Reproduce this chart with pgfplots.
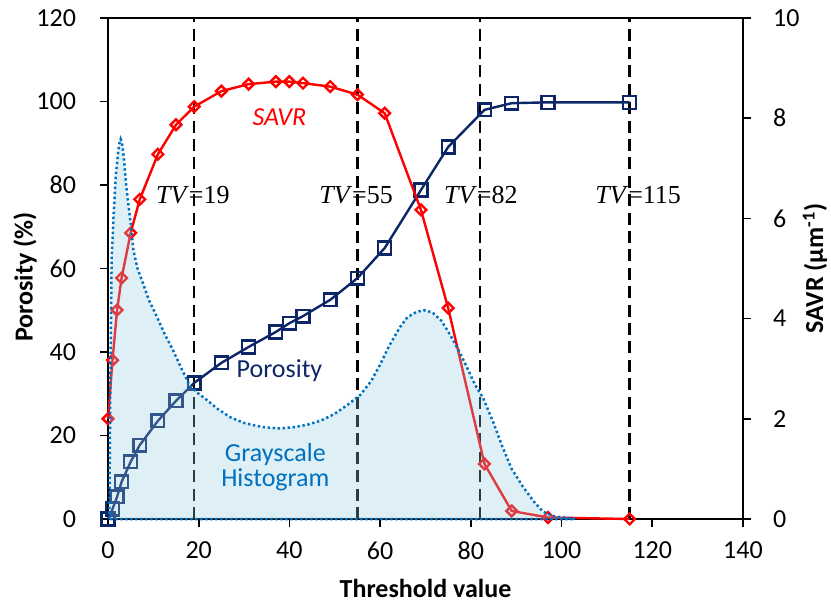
\documentclass[border=0pt]{standalone}
\usepackage{pgfplots}
\pgfplotsset{compat=1.18}
\usepackage{fontspec}
\setmainfont{Carlito}
\newfontfamily\tvfont{Liberation Serif}
\definecolor{navy}{RGB}{12,38,104}
\definecolor{histblue}{RGB}{0,112,192}
\definecolor{histfill}{RGB}{145,202,222}
\newcommand\fs{\fontsize{13}{15.6}\selectfont}
\begin{document}
\begin{tikzpicture}
\pgfplotsset{
  common/.style={
    scale only axis, width=317.5pt, height=250.5pt,
    xmin=0, xmax=140, clip=false,
    tick align=outside, major tick length=4pt,
    tick style={black, line width=0.8pt},
    axis line style={black, line width=1pt},
    ticklabel style={font=\fs},
    label style={font=\fs},
    /pgf/number format/assume math mode=true,
  }
}
\begin{axis}[common, name=main,
  ymin=0, ymax=120,
  xtick={0,20,...,140}, ytick={0,20,...,120},
  xtick pos=bottom, ytick pos=left,
  xticklabel style={yshift=-4pt},
  yticklabel style={xshift=-8.5pt},
  xlabel={\bfseries Threshold value},
  ylabel={\bfseries Porosity (\%)},
  xlabel style={at={(axis description cs:0.5,-0.1377)}, anchor=center},
  ylabel style={at={(axis description cs:-0.1307,0.483)}, anchor=center},
]
\addplot[black, line width=1.2pt, dash pattern=on 6pt off 3.2pt] coordinates {(19,0) (19,120)};
\addplot[black, line width=1.2pt, dash pattern=on 6pt off 3.2pt] coordinates {(55,0) (55,120)};
\addplot[black, line width=1.2pt, dash pattern=on 6pt off 3.2pt] coordinates {(82,0) (82,120)};
\addplot[black, line width=1.2pt, dash pattern=on 6pt off 3.2pt] coordinates {(115,0) (115,120)};
\addplot[navy, line width=1.2pt, mark=square, mark size=3.2pt, mark options={fill=white, solid, line width=1.2pt}] coordinates {
(0,0) (1,2.4) (2,5.3) (3,8.9) (5,13.7) (7,17.7) (11,23.5) (15,28.3) (19,32.6) (25,37.4)
(31,41.2) (37,44.8) (40,46.9) (43,48.6) (49,52.5) (55,57.7) (61,64.9) (69,78.8) (75,89.1)
(83,98.0) (89,99.6) (97,99.8) (115,99.8)};
\end{axis}
\begin{axis}[common,
  ymin=0, ymax=10, ytick={0,2,...,10},
  axis x line=none, axis y line*=right,
  yticklabel style={xshift=7.5pt},
  ylabel={\bfseries SAVR (µm\textsuperscript{-1})},
  ylabel style={at={(axis description cs:1.1134,0.5)}, anchor=center},
]
\addplot[red, line width=1.2pt, mark=square, mark size=1.9pt, mark options={fill=white, solid, line width=1.2pt, rotate=45}] coordinates {
(0,2.0) (1,3.17) (2,4.17) (3,4.81) (5,5.71) (7,6.38) (11,7.28) (15,7.87) (19,8.23) (25,8.54)
(31,8.68) (37,8.73) (40,8.73) (43,8.70) (49,8.63) (55,8.47) (61,8.10) (69,6.17) (75,4.21)
(83,1.10) (89,0.16) (97,0.03) (115,0)};
\end{axis}
\begin{axis}[common, hide axis, ymin=0, ymax=120]
\addplot[fill=histfill, fill opacity=0.3, draw=histblue, draw opacity=1, line width=1.25pt, dash pattern=on 1.2pt off 1.3pt] coordinates {
(0.3,0) (0.5,30) (0.8,62) (1.2,72) (1.7,82) (2.2,87.5) (2.5,90) (2.8,91) (3.1,90) (3.5,86.5) (4,80) (5.2,69) (5.6,64.4)
(6.5,60) (7.7,56.5) (9,52.5) (10.8,48.4) (12.5,44.3) (14.3,40.5) (16,36.5) (18,32) (20,30)
(21.8,28.5) (24,26.5) (26.9,24.4) (30,23) (32.8,22.3) (35,21.9) (38,21.7) (41,22) (44,22.6)
(47,23.6) (50,25.2) (53,27.5) (55.6,29.7) (58,33) (60,37) (62,41.5) (64.4,46) (66,48.3)
(68,49.6) (69.7,50) (71.5,49.5) (73.5,47.5) (75.5,44) (77.5,40) (79.5,35.5) (81,32) (82.7,29)
(85,23) (87,17.2) (89,12) (91.5,7.7) (94,4) (96,1.7) (98.5,0.6) (101.8,0.2) (103,0)} -- cycle;
\node[font=\fs\itshape, text=red] at (axis cs:37.8,96.3) {SAVR};
\node[font=\fs, text=navy] at (axis cs:37.8,35.5) {Porosity};
\node[font=\fontsize{13}{12.5}\selectfont, text=histblue, align=center] at (axis cs:36.9,12.3) {Grayscale\\Histogram};
\node[font=\tvfont\fontsize{13}{15}\selectfont] at (axis cs:18.7,77.6) {\textit{TV}=19};
\node[font=\tvfont\fontsize{13}{15}\selectfont] at (axis cs:54.7,77.6) {\textit{TV}=55};
\node[font=\tvfont\fontsize{13}{15}\selectfont] at (axis cs:82.2,77.6) {\textit{TV}=82};
\node[font=\tvfont\fontsize{13}{15}\selectfont] at (axis cs:116.9,77.6) {\textit{TV}=115};
\end{axis}
\pgfresetboundingbox
\path ([xshift=-54pt,yshift=-44pt]main.south west) rectangle ([xshift=44pt,yshift=9pt]main.north east);
\end{tikzpicture}
\end{document}
